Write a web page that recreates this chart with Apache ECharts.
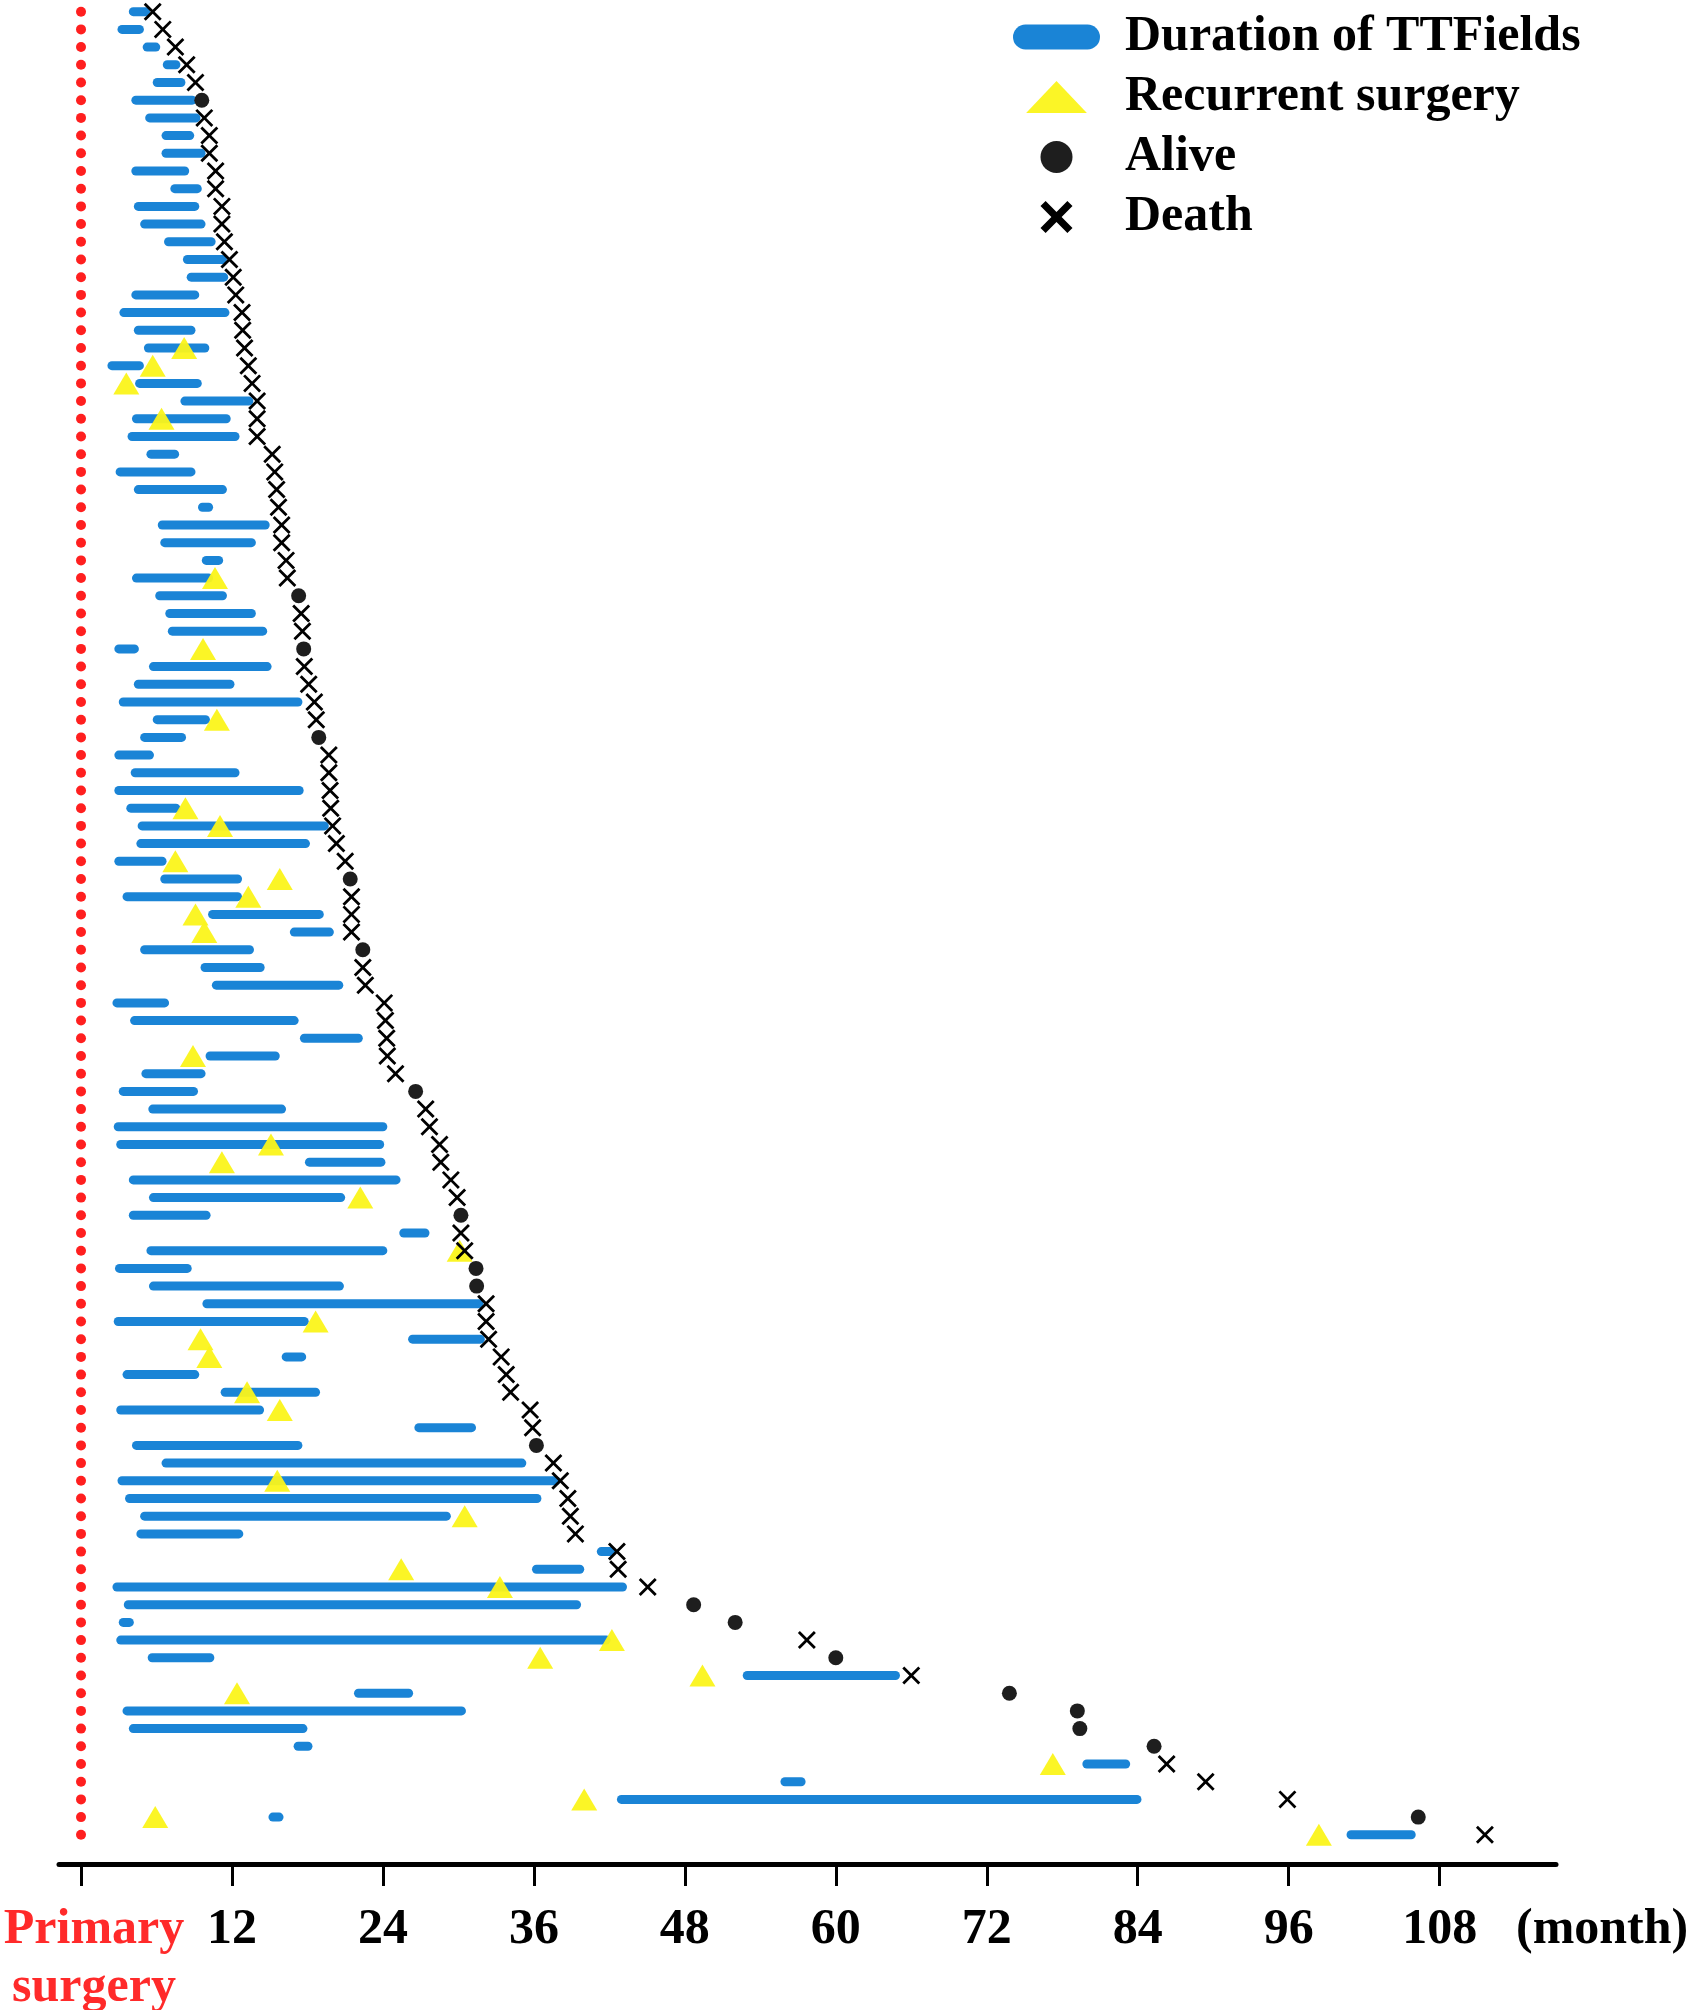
<!DOCTYPE html>
<html>
<head>
    <meta charset="utf-8">
    <title>TTFields swimmer plot</title>
    <style>
        html, body { margin: 0; padding: 0; background: #fff; }
    </style>
</head>
<body>
<div id="container" style="width: 1689px; height: 2010px"></div>

<script src="https://cdn.jsdelivr.net/npm/echarts@6.0.0/dist/echarts.min.js"></script>
<script type="text/javascript">

    // one entry per patient, top row first (months after primary surgery)
    var ttfStart = [3.8, 2.9, 4.9, 6.5, 5.7, 4.0, 5.1, 6.4, 6.4, 4.0,
        7.1, 4.2, 4.7, 6.6, 8.1, 8.4, 4.0, 3.05, 4.2, 5.0,
        2.1, 4.3, 7.9, 4.05, 3.7, 5.2, 2.75, 4.2, 9.3, 6.1,
        6.3, 9.6, 4.05, 5.9, 6.7, 6.9, 2.65, 5.4, 4.2, 3.0,
        5.7, 4.7, 2.65, 3.95, 2.65, 3.6, 4.5, 4.4, 2.65, 6.3,
        3.3, 10.1, 16.6, 4.7, 9.5, 10.4, 2.5, 3.9, 17.4, 9.9,
        4.8, 3.0, 5.35, 2.6, 2.8, 17.8, 3.8, 5.4, 3.8, 25.3,
        5.2, 2.7, 5.4, 9.65, 2.6, 26.0, 15.95, 3.3, 11.1, 2.8,
        26.5, 4.05, 6.4, 2.9, 3.5, 4.7, 4.4, 41.0, 35.85, 2.5,
        3.4, 3.0, 2.8, 5.3, 52.6, 21.7, 3.3, 3.8, 16.9, 79.6,
        55.6, 42.6, 14.9, 100.6];

    var ttfEnd = [5.5, 5.0, 6.3, 7.9, 8.3, 9.2, 9.5, 9.0, 9.9, 8.6,
        9.6, 9.4, 9.9, 10.7, 11.6, 11.7, 9.4, 11.8, 9.1, 10.2,
        5.0, 9.6, 13.7, 11.9, 12.6, 7.8, 9.1, 11.6, 10.5, 15.0,
        13.9, 11.3, 10.5, 11.6, 13.9, 14.8, 4.6, 15.15, 12.2, 17.6,
        10.25, 8.35, 5.8, 12.6, 17.7, 7.9, 19.7, 18.2, 6.8, 12.8,
        12.8, 19.3, 20.1, 13.75, 14.6, 20.85, 7.0, 17.3, 22.4, 15.8,
        9.9, 9.3, 16.3, 24.35, 24.1, 24.2, 25.4, 21.0, 10.3, 27.7,
        24.35, 8.8, 20.9, 32.0, 18.1, 32.1, 17.9, 9.4, 19.0, 14.55,
        31.4, 17.6, 35.4, 38.1, 36.6, 29.4, 12.9, 42.5, 40.0, 43.4,
        39.75, 4.2, 42.1, 10.6, 65.1, 26.4, 30.6, 18.0, 18.4, 83.4,
        57.6, 84.3, 16.1, 106.1];

    // last follow-up (alive) or death
    var outcomeMonth = [5.7, 6.5, 7.5, 8.4, 9.1, 9.6, 9.8, 10.2, 10.2, 10.7,
        10.7, 11.2, 11.2, 11.4, 11.8, 12.1, 12.3, 12.8, 12.85, 13.0,
        13.3, 13.6, 14.0, 14.0, 14.0, 15.2, 15.4, 15.55, 15.7, 15.95,
        15.95, 16.3, 16.4, 17.3, 17.5, 17.6, 17.7, 17.75, 18.1, 18.55,
        18.7, 18.9, 19.7, 19.7, 19.8, 19.85, 20.0, 20.3, 21.0, 21.4,
        21.5, 21.5, 21.5, 22.4, 22.4, 22.6, 24.1, 24.2, 24.3, 24.35,
        25.0, 26.6, 27.4, 27.7, 28.5, 28.6, 29.4, 29.9, 30.2, 30.2,
        30.5, 31.4, 31.45, 32.2, 32.2, 32.4, 33.4, 33.8, 34.15, 35.7,
        35.9, 36.2, 37.55, 38.1, 38.7, 38.9, 39.3, 42.6, 42.7, 45.05,
        48.7, 52.0, 57.7, 60.0, 66.0, 73.8, 79.2, 79.4, 85.3, 86.3,
        89.4, 95.9, 106.3, 111.6];

    var aliveRows = [5, 33, 36, 41, 49, 53, 61, 68, 71, 72, 81, 90, 91, 93, 95, 96, 97, 98, 102];

    var surgeryRows = [19, 20, 21, 23, 32, 36, 40, 45, 46, 48, 49, 50, 51, 52, 59, 64, 65, 67,
        70, 74, 75, 76, 78, 79, 83, 85, 88, 89, 92, 93, 94, 95, 99, 101, 102, 103];
    var surgeryMonth = [8.2, 5.7, 3.6, 6.4, 10.65, 9.7, 10.8, 8.3, 11.05, 7.5, 15.8, 13.3, 9.1, 9.8, 8.9, 15.1, 11.2, 22.2,
        30.1, 18.65, 9.5, 10.2, 13.2, 15.8, 15.6, 30.5, 25.45, 33.3, 42.2, 36.5, 49.4, 12.4, 77.25, 40.0, 5.9, 98.4];

    var tickMonths = [0, 12, 24, 36, 48, 60, 72, 84, 96, 108];

    var BLUE = '#1a84d6';
    var YELLOW = '#fbf41a';
    var serif = 'Liberation Serif';
    // filled "x" shapes: thin one for the plot, heavier one for the legend
    var crossPath = 'path://M0,11L11,0L50,39L89,0L100,11L61,50L100,89L89,100L50,61L11,100L0,89L39,50Z';
    var crossPathBold = 'path://M0,16L16,0L50,34L84,0L100,16L66,50L100,84L84,100L50,66L16,100L0,84L34,50Z';

    var barData = ttfStart.map(function (s, i) { return [s, ttfEnd[i], i]; });
    var baseData = ttfStart.map(function (s, i) { return [0, i]; });
    var aliveData = [], deathData = [];
    outcomeMonth.forEach(function (m, i) {
        if (aliveRows.indexOf(i) >= 0) aliveData.push([m, i]);
        else deathData.push([m, i]);
    });
    var surgeryData = surgeryMonth.map(function (m, k) { return [m, surgeryRows[k]]; });

    var dom = document.getElementById('container');
    var myChart = echarts.init(dom);

    var option = {
        animation: false,
        backgroundColor: '#fff',
        grid: { left: 59, right: 133, top: 0, bottom: 146, outerBoundsMode: 'none', containLabel: false },
        legend: {
            orient: 'vertical',
            left: 1008,
            top: 7,
            itemWidth: 87,
            itemHeight: 32,
            itemGap: 10,
            selectedMode: false,
            textStyle: {
                fontFamily: serif, fontWeight: 'bold', fontSize: 50,
                color: '#000', lineHeight: 48, padding: [0, 0, 0, 20]
            },
            data: [
                { name: 'Duration of TTFields', icon: 'path://M12.5,0L74.5,0A12.5,12.5,0,0,1,74.5,25L12.5,25A12.5,12.5,0,0,1,12.5,0Z' },
                { name: 'Recurrent surgery', icon: 'path://M28.5,0L57,30L0,30Z' },
                { name: 'Alive', icon: 'circle' },
                { name: 'Death', icon: crossPathBold }
            ]
        },
        xAxis: {
            type: 'value',
            min: -1.75,
            max: 117.25,
            splitLine: { show: false },
            axisLine: { show: true, onZero: false, lineStyle: { color: '#000', width: 5 } },
            axisTick: { show: true, customValues: tickMonths, length: 22, lineStyle: { color: '#000', width: 3 } },
            axisLabel: {
                customValues: tickMonths,
                margin: 37,
                fontFamily: serif,
                fontWeight: 'bold',
                fontSize: 50,
                lineHeight: 58,
                color: '#000',
                formatter: function (v) {
                    return v === 0 ? '{p|Primary}\n{p|surgery}' : String(v);
                },
                rich: {
                    p: { color: '#ff2a2a', fontFamily: serif, fontWeight: 'bold', fontSize: 50, lineHeight: 58, padding: [0, 0, 0, 26] }
                }
            },
            name: '(month)',
            nameLocation: 'end',
            nameGap: -40,
            nameTextStyle: {
                fontFamily: serif, fontWeight: 'bold', fontSize: 50, color: '#000',
                lineHeight: 132, align: 'left', verticalAlign: 'top'
            }
        },
        yAxis: {
            type: 'value',
            inverse: true,
            min: -0.66,
            max: 104.65,
            show: false
        },
        series: [
            {
                name: 'Primary surgery',
                type: 'scatter',
                data: baseData,
                symbol: 'circle',
                symbolSize: 10,
                itemStyle: { color: '#ff1f1f', opacity: 1 },
                silent: true
            },
            {
                name: 'Duration of TTFields',
                type: 'custom',
                data: barData,
                encode: { x: [0, 1], y: 2 },
                renderItem: function (params, api) {
                    var s = api.coord([api.value(0), api.value(2)]);
                    var e = api.coord([api.value(1), api.value(2)]);
                    var x1 = s[0] + 4.5, x2 = Math.max(e[0] - 4.5, x1);
                    return {
                        type: 'line',
                        shape: { x1: x1, y1: s[1], x2: x2, y2: e[1] },
                        style: { stroke: BLUE, lineWidth: 9, lineCap: 'round' }
                    };
                },
                itemStyle: { color: BLUE },
                silent: true
            },
            {
                name: 'Recurrent surgery',
                type: 'scatter',
                data: surgeryData,
                symbol: 'triangle',
                symbolSize: [26, 22],
                itemStyle: { color: YELLOW, opacity: 0.95 },
                silent: true
            },
            {
                name: 'Alive',
                type: 'scatter',
                data: aliveData,
                symbol: 'circle',
                symbolSize: 15,
                itemStyle: { color: '#1e1e1e', opacity: 1 },
                silent: true
            },
            {
                name: 'Death',
                type: 'scatter',
                data: deathData,
                symbol: crossPath,
                symbolSize: 18,
                itemStyle: { color: '#000', opacity: 1 },
                silent: true
            }
        ]
    };

    if (option && typeof option === 'object') {
        myChart.setOption(option, true);
    }
</script>
</body>
</html>
